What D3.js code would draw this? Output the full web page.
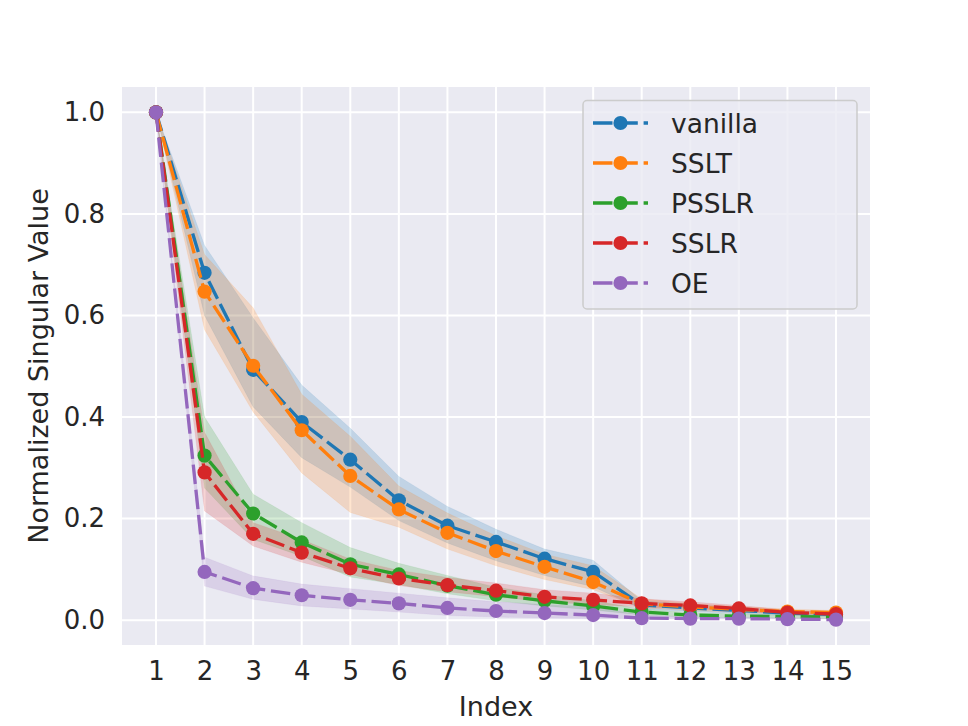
<!DOCTYPE html>
<html>
<head>
<meta charset="utf-8">
<script src="https://cdn.jsdelivr.net/npm/d3@7"></script>
<style>
  html, body { margin: 0; padding: 0; background: #ffffff; }
  svg text { font-family: "DejaVu Sans", sans-serif; fill: #262626; }
</style>
</head>
<body>
<svg id="chart" width="968" height="726"></svg>
<script>
// ---- data ----
const indices = [1, 2, 3, 4, 5, 6, 7, 8, 9, 10, 11, 12, 13, 14, 15];
const seriesNames = ["vanilla", "SSLT", "PSSLR", "SSLR", "OE"];
const seriesColors = ["#1f77b4", "#ff7f0e", "#2ca02c", "#d62728", "#9467bd"];

const vanilla   = [1.0, 0.684, 0.493, 0.390, 0.316, 0.236, 0.186, 0.154, 0.121, 0.095, 0.030, 0.024, 0.019, 0.014, 0.011];
const vanillaLo = [1.0, 0.600, 0.420, 0.320, 0.262, 0.196, 0.152, 0.117, 0.088, 0.066, 0.022, 0.017, 0.013, 0.009, 0.007];
const vanillaHi = [1.0, 0.738, 0.595, 0.463, 0.378, 0.283, 0.224, 0.179, 0.140, 0.118, 0.038, 0.031, 0.025, 0.019, 0.015];

const sslt   = [1.0, 0.647, 0.501, 0.374, 0.284, 0.218, 0.172, 0.136, 0.105, 0.075, 0.032, 0.026, 0.021, 0.017, 0.015];
const ssltLo = [1.0, 0.572, 0.410, 0.290, 0.212, 0.183, 0.140, 0.107, 0.080, 0.060, 0.024, 0.019, 0.015, 0.012, 0.011];
const ssltHi = [1.0, 0.720, 0.615, 0.445, 0.362, 0.264, 0.211, 0.166, 0.130, 0.107, 0.042, 0.033, 0.027, 0.022, 0.019];

const psslr   = [1.0, 0.324, 0.210, 0.153, 0.110, 0.090, 0.068, 0.050, 0.038, 0.028, 0.016, 0.010, 0.008, 0.007, 0.006];
const psslrLo = [1.0, 0.260, 0.159, 0.126, 0.085, 0.070, 0.052, 0.038, 0.028, 0.020, 0.010, 0.006, 0.005, 0.004, 0.003];
const psslrHi = [1.0, 0.400, 0.248, 0.192, 0.143, 0.112, 0.088, 0.065, 0.050, 0.038, 0.022, 0.015, 0.012, 0.010, 0.009];

const sslr   = [1.0, 0.291, 0.170, 0.133, 0.102, 0.082, 0.069, 0.058, 0.046, 0.040, 0.033, 0.029, 0.023, 0.015, 0.012];
const sslrLo = [1.0, 0.215, 0.146, 0.114, 0.090, 0.068, 0.056, 0.046, 0.036, 0.031, 0.026, 0.023, 0.018, 0.011, 0.008];
const sslrHi = [1.0, 0.370, 0.192, 0.159, 0.120, 0.098, 0.084, 0.073, 0.060, 0.053, 0.042, 0.036, 0.029, 0.020, 0.016];

const oe   = [1.0, 0.095, 0.063, 0.049, 0.040, 0.033, 0.024, 0.018, 0.014, 0.010, 0.004, 0.003, 0.003, 0.002, 0.001];
const oeLo = [1.0, 0.067, 0.041, 0.028, 0.022, 0.016, 0.009, 0.006, 0.004, 0.003, 0.003, 0.003, 0.003, 0.003, 0.003];
const oeHi = [1.0, 0.124, 0.087, 0.071, 0.062, 0.053, 0.044, 0.036, 0.031, 0.026, 0.010, 0.006, 0.005, 0.004, 0.003];

const yTicks = [0.0, 0.2, 0.4, 0.6, 0.8, 1.0];
const xTicks = indices;
const xLabel = "Index";
const yLabel = "Normalized Singular Value";

const seriesMeans = [vanilla, sslt, psslr, sslr, oe];
const seriesLows  = [vanillaLo, ssltLo, psslrLo, sslrLo, oeLo];
const seriesHighs = [vanillaHi, ssltHi, psslrHi, sslrHi, oeHi];

// ---- layout ----
const W = 968, H = 726;
const plot = { left: 122, right: 870, top: 87, bottom: 645 };

const svg = d3.select("#chart");

// matplotlib-like 5% autoscale margins
const xMin = d3.min(indices), xMax = d3.max(indices);
const xPad = (xMax - xMin) * 0.05;
const allY = seriesLows.flat().concat(seriesHighs.flat(), seriesMeans.flat());
const yMin = d3.min(allY), yMax = d3.max(allY);
const yPad = (yMax - yMin) * 0.05;

const x = d3.scaleLinear().domain([xMin - xPad, xMax + xPad]).range([plot.left, plot.right]);
const y = d3.scaleLinear().domain([yMin - yPad, yMax + yPad]).range([plot.bottom, plot.top]);

// background
svg.append("rect")
  .attr("x", plot.left).attr("y", plot.top)
  .attr("width", plot.right - plot.left).attr("height", plot.bottom - plot.top)
  .attr("fill", "#eaeaf2");

// grid
const grid = svg.append("g");
grid.selectAll("line.gx").data(xTicks).enter().append("line")
  .attr("x1", d => x(d)).attr("x2", d => x(d))
  .attr("y1", plot.top).attr("y2", plot.bottom)
  .attr("stroke", "#ffffff").attr("stroke-width", 2);
grid.selectAll("line.gy").data(yTicks).enter().append("line")
  .attr("y1", d => y(d)).attr("y2", d => y(d))
  .attr("x1", plot.left).attr("x2", plot.right)
  .attr("stroke", "#ffffff").attr("stroke-width", 2);

// axes (tick labels via d3 axes, no domain lines / tick marks)
const xAxis = svg.append("g")
  .attr("transform", `translate(0,${plot.bottom})`)
  .call(d3.axisBottom(x).tickValues(xTicks).tickFormat(d3.format("d")).tickSize(0).tickPadding(17));
const yAxis = svg.append("g")
  .attr("transform", `translate(${plot.left},0)`)
  .call(d3.axisLeft(y).tickValues(yTicks).tickFormat(d3.format(".1f")).tickSize(0).tickPadding(17));
[xAxis, yAxis].forEach(a => {
  a.select(".domain").remove();
  a.selectAll("text")
    .attr("fill", "#262626")
    .style("font-family", "'DejaVu Sans', sans-serif")
    .style("font-size", "26px");
});

// axis labels
svg.append("text")
  .attr("x", (plot.left + plot.right) / 2).attr("y", 716)
  .attr("text-anchor", "middle")
  .style("font-size", "27px")
  .text(xLabel);
svg.append("text")
  .attr("transform", `translate(48,${(plot.top + plot.bottom) / 2}) rotate(-90)`)
  .attr("text-anchor", "middle")
  .style("font-size", "27px")
  .text(yLabel);

// clip
svg.append("clipPath").attr("id", "clip").append("rect")
  .attr("x", plot.left).attr("y", plot.top)
  .attr("width", plot.right - plot.left).attr("height", plot.bottom - plot.top);

const bandsG = svg.append("g").attr("clip-path", "url(#clip)");
const linesG = svg.append("g").attr("clip-path", "url(#clip)");

const area = d3.area()
  .x(d => x(d.i)).y0(d => y(d.lo)).y1(d => y(d.hi));
const line = d3.line().x(d => x(d.i)).y(d => y(d.v));

seriesNames.forEach((name, k) => {
  const rows = indices.map((i, j) => ({ i, v: seriesMeans[k][j], lo: seriesLows[k][j], hi: seriesHighs[k][j] }));
  bandsG.append("path").datum(rows)
    .attr("d", area)
    .attr("fill", seriesColors[k]).attr("fill-opacity", 0.2)
    .attr("stroke", seriesColors[k]).attr("stroke-opacity", 0.08).attr("stroke-width", 1);
});

seriesNames.forEach((name, k) => {
  const rows = indices.map((i, j) => ({ i, v: seriesMeans[k][j] }));
  const g = linesG.append("g");
  g.append("path").datum(rows)
    .attr("d", line)
    .attr("fill", "none")
    .attr("stroke", seriesColors[k])
    .attr("stroke-width", 3.3)
    .attr("stroke-dasharray", "19.5,5.8");
  g.selectAll("circle").data(rows).enter().append("circle")
    .attr("cx", d => x(d.i)).attr("cy", d => y(d.v))
    .attr("r", 7.1)
    .attr("fill", seriesColors[k]);
});

// legend
const leg = svg.append("g");
leg.append("rect")
  .attr("x", 583).attr("y", 100.5).attr("width", 274).attr("height", 208.5)
  .attr("rx", 4).attr("ry", 4)
  .attr("fill", "#eaeaf2").attr("fill-opacity", 0.8)
  .attr("stroke", "#cccccc").attr("stroke-width", 1.5);
seriesNames.forEach((name, k) => {
  const cy = 123 + k * 40;
  const e = leg.append("g");
  e.append("line")
    .attr("x1", 593).attr("x2", 648).attr("y1", cy).attr("y2", cy)
    .attr("stroke", seriesColors[k]).attr("stroke-width", 3.3)
    .attr("stroke-dasharray", "19.5,5.8");
  e.append("circle").attr("cx", 620.5).attr("cy", cy).attr("r", 7.1).attr("fill", seriesColors[k]);
  e.append("text")
    .attr("x", 671).attr("y", cy + 9.5)
    .style("font-size", "26.5px")
    .text(name);
});
</script>
</body>
</html>
